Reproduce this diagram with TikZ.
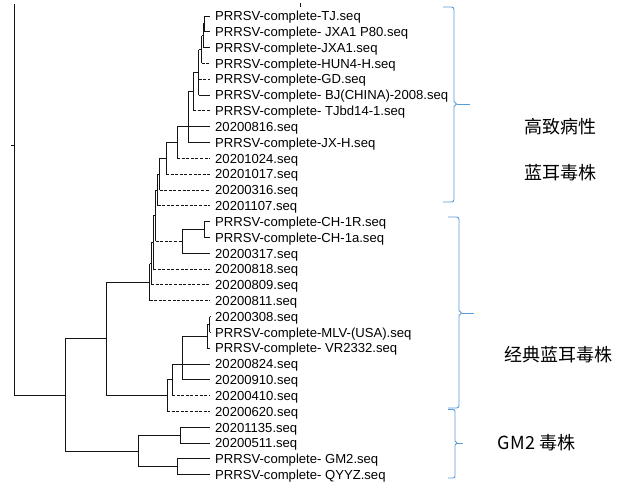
\documentclass[tikz,border=0pt]{standalone}
\usepackage{fontspec}
\setmainfont{Liberation Sans}
\newfontfamily\cjk{Noto Sans CJK SC}
\definecolor{braceblue}{RGB}{91,155,213}
\begin{document}
\begin{tikzpicture}[x=1pt,y=-1pt,
  br/.style={line width=0.95pt, draw=black!92},
  dsh/.style={br, dash pattern=on 3pt off 1.6pt},
  leaf/.style={anchor=base west, inner sep=0pt, font=\fontsize{13.1}{15}\selectfont},
  cn/.style={font=\cjk\fontsize{18}{20}\selectfont, anchor=base, inner sep=0pt},
  bracestyle/.style={draw=braceblue, line width=0.9pt, line join=round}
]
\fill[white] (0,0) rectangle (621,496);
\useasboundingbox (0,0) rectangle (621,496);

% leaves
\foreach \i/\txt in {
 1/{PRRSV-complete-TJ.seq},
 2/{PRRSV-complete- JXA1 P80.seq},
 3/{PRRSV-complete-JXA1.seq},
 4/{PRRSV-complete-HUN4-H.seq},
 5/{PRRSV-complete-GD.seq},
 6/{PRRSV-complete- BJ(CHINA)-2008.seq},
 7/{PRRSV-complete- TJbd14-1.seq},
 8/{20200816.seq},
 9/{PRRSV-complete-JX-H.seq},
 10/{20201024.seq},
 11/{20201017.seq},
 12/{20200316.seq},
 13/{20201107.seq},
 14/{PRRSV-complete-CH-1R.seq},
 15/{PRRSV-complete-CH-1a.seq},
 16/{20200317.seq},
 17/{20200818.seq},
 18/{20200809.seq},
 19/{20200811.seq},
 20/{20200308.seq},
 21/{PRRSV-complete-MLV-(USA).seq},
 22/{PRRSV-complete- VR2332.seq},
 23/{20200824.seq},
 24/{20200910.seq},
 25/{20200410.seq},
 26/{20200620.seq},
 27/{20201135.seq},
 28/{20200511.seq},
 29/{PRRSV-complete- GM2.seq},
 30/{PRRSV-complete- QYYZ.seq}}{
  \coordinate (l\i) at (210,{16+15.82*(\i-1)});
  \node[leaf] (t\i) at (215,{20.7+15.82*(\i-1)}) {\txt};
}

% internal nodes
\coordinate (a1) at (204,23.9);
\coordinate (a2) at (203,35.75);
\coordinate (a3) at (201.5,49.6);
\coordinate (a4) at (198.5,72.4);
\coordinate (a5) at (193,91.6);
\coordinate (a6) at (188,126.7);
\coordinate (a7) at (177,142.6);
\coordinate (a8) at (166,158.4);
\coordinate (a9) at (159.5,174.2);
\coordinate (a10) at (157.5,190.0);
\coordinate (b1) at (204,229.6);
\coordinate (b2) at (182,241.4);
\coordinate (a11) at (155.5,215.7);
\coordinate (a12) at (153,242.4);
\coordinate (a13) at (151,263.7);
\coordinate (a14) at (149.5,282.2);
\coordinate (c1) at (209.5,324.5);
\coordinate (c2) at (207,336.4);
\coordinate (c3) at (182,364.0);
\coordinate (c4) at (172,379.9);
\coordinate (c5) at (167,395.7);
\coordinate (B) at (106,338.9);
\coordinate (g1) at (180,435.2);
\coordinate (g2) at (177,466.8);
\coordinate (G) at (138,451.0);
\coordinate (A) at (65,395.0);
\coordinate (top) at (14,4);
\coordinate (tick) at (11,145);
\coordinate (spot) at (300,3);

% verticals
\draw[br] (a1|-l1) -- (a1|-l2);
\draw[br] (a2|-a1) -- (a2|-l3);
\draw[br] (a3|-a2) -- (a3|-l4);
\draw[br] (a4|-a3) -- (a4|-l6);
\draw[br] (a5|-a4) -- (a5|-l7);
\draw[br] (a6|-a5) -- (a6|-l9);
\draw[br] (a7|-a6) -- (a7|-l10);
\draw[br] (a8|-a7) -- (a8|-l11);
\draw[br] (a9|-a8) -- (a9|-l12);
\draw[br] (a10|-a9) -- (a10|-l13);
\draw[br] (b1|-l14) -- (b1|-l15);
\draw[br] (b2|-b1) -- (b2|-l16);
\draw[br] (a11|-a10) -- (a11|-b2);
\draw[br] (a12|-a11) -- (a12|-l17);
\draw[br] (a13|-a12) -- (a13|-l18);
\draw[br] (a14|-a13) -- (a14|-l19);
\draw[br] (c1|-l20) -- (c1|-l21);
\draw[br] (c2|-c1) -- (c2|-l22);
\draw[br] (c3|-c2) -- (c3|-l24);
\draw[br] (c4|-c3) -- (c4|-l25);
\draw[br] (c5|-c4) -- (c5|-l26);
\draw[br] (B|-a14) -- (B|-c5);
\draw[br] (g1|-l27) -- (g1|-l28);
\draw[br] (g2|-l29) -- (g2|-l30);
\draw[br] (G|-g1) -- (G|-g2);
\draw[br] (A|-B) -- (A|-G);
\draw[br] (top) -- (top|-A);

% horizontals
\draw[br] (a1|-l1) -- (l1);
\draw[br] (a1|-l2) -- (l2);
\draw[br] (a2|-a1) -- (a1);
\draw[br] (a2|-l3) -- (l3);
\draw[br] (a3|-a2) -- (a2);
\draw[dsh] (a3|-l4) -- (l4);
\draw[br] (a4|-a3) -- (a3);
\draw[dsh] (a4|-l5) -- (l5);
\draw[br] (a4|-l6) -- (l6);
\draw[br] (a5|-a4) -- (a4);
\draw[dsh] (a5|-l7) -- (l7);
\draw[br] (a6|-a5) -- (a5);
\draw[br] (a6|-l8) -- (l8);
\draw[br] (a6|-l9) -- (l9);
\draw[br] (a7|-a6) -- (a6);
\draw[dsh] (a7|-l10) -- (l10);
\draw[br] (a8|-a7) -- (a7);
\draw[dsh] (a8|-l11) -- (l11);
\draw[br] (a9|-a8) -- (a8);
\draw[dsh] (a9|-l12) -- (l12);
\draw[br] (a10|-a9) -- (a9);
\draw[dsh] (a10|-l13) -- (l13);
\draw[br] (b1|-l14) -- (l14);
\draw[br] (b1|-l15) -- (l15);
\draw[br] (b2|-b1) -- (b1);
\draw[br] (b2|-l16) -- (l16);
\draw[br] (a11|-a10) -- (a10);
\draw[dsh] (a11|-b2) -- (b2);
\draw[br] (a12|-a11) -- (a11);
\draw[dsh] (a12|-l17) -- (l17);
\draw[br] (a13|-a12) -- (a12);
\draw[dsh] (a13|-l18) -- (l18);
\draw[br] (a14|-a13) -- (a13);
\draw[dsh] (a14|-l19) -- (l19);
\draw[br] (c1|-l20) -- (l20);
\draw[br] (c1|-l21) -- (l21);
\draw[br] (c2|-c1) -- (c1);
\draw[br] (c2|-l22) -- (l22);
\draw[br] (c3|-c2) -- (c2);
\draw[br] (c3|-l23) -- (l23);
\draw[br] (c3|-l24) -- (l24);
\draw[br] (c4|-c3) -- (c3);
\draw[dsh] (c4|-l25) -- (l25);
\draw[br] (c5|-c4) -- (c4);
\draw[dsh] (c5|-l26) -- (l26);
\draw[br] (B|-a14) -- (a14);
\draw[br] (B|-c5) -- (c5);
\draw[br] (g1|-l27) -- (l27);
\draw[br] (g1|-l28) -- (l28);
\draw[br] (g2|-l29) -- (l29);
\draw[br] (g2|-l30) -- (l30);
\draw[br] (G|-g1) -- (g1);
\draw[br] (G|-g2) -- (g2);
\draw[br] (A|-B) -- (B);
\draw[br] (A|-G) -- (G);
\draw[br] (top|-A) -- (A);
\draw[br] (tick) -- (tick-|top);
\draw[br] (spot) -- ++(0,4);

% braces
\draw[bracestyle] (443,7) -- (451.5,7) to[out=0,in=90] (454,9.5) -- (454,101.5) -- (456.5,104) -- (454,106.5) -- (454,199.5) to[out=-90,in=0] (451.5,202) -- (443,202);
\draw[bracestyle] (456.5,104) -- (470,104);
\draw[bracestyle] (448,217) -- (456.5,217) to[out=0,in=90] (459,219.5) -- (459,310.5) -- (461.5,313) -- (459,315.5) -- (459,405.5) to[out=-90,in=0] (456.5,408) -- (448,408);
\draw[bracestyle] (461.5,313) -- (474,313);
\draw[bracestyle] (448,409.5) -- (453,409.5) to[out=0,in=90] (455,411.5) -- (455,441) -- (457,443) -- (455,445) -- (455,476) to[out=-90,in=0] (453,478) -- (448,478);
\draw[bracestyle] (457,443) -- (463,443);

% group labels
\node[cn] (h1) at (560.5,133.8) {高致病性};
\node[cn] (h2) at (560.5,179.8) {蓝耳毒株};
\node[cn] (h3) at (558,361.8) {经典蓝耳毒株};
\node[cn] (h4) at (536.5,449.8) {GM2 毒株};
\end{tikzpicture}
\end{document}
